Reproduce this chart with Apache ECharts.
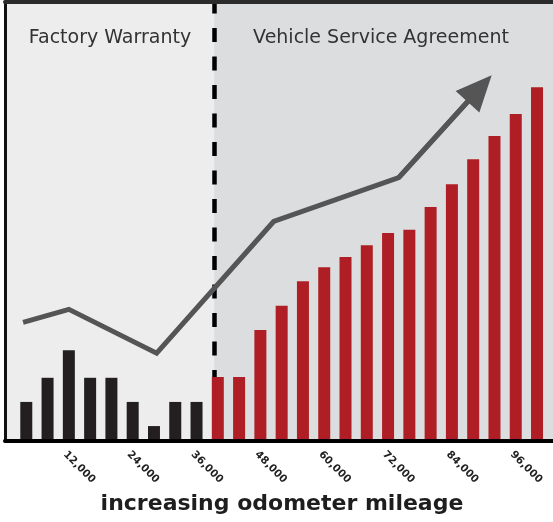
<!DOCTYPE html>
<html>
<head>
<meta charset="utf-8">
<script src="https://cdn.jsdelivr.net/npm/echarts@6/dist/echarts.min.js"></script>
<style>
  html, body { margin: 0; padding: 0; background: #fff; }
  #chart { width: 553px; height: 522px; }
</style>
</head>
<body>
<div id="chart"></div>
<script>
// odometer reading of each bar (miles)
const miles = [4000, 8000, 12000, 16000, 20000, 24000, 28000, 32000, 36000,
  40000, 44000, 48000, 52000, 56000, 60000, 64000, 68000, 72000, 76000,
  80000, 84000, 88000, 92000, 96000, 100000]
// repair cost per bar (relative units)
const repairCost = [8.9, 14.4, 20.7, 14.4, 14.4, 8.9, 3.4, 8.9, 8.9,
  14.6, 14.6, 25.3, 30.8, 36.4, 39.6, 41.9, 44.6, 47.4, 48.1,
  53.3, 58.5, 64.2, 69.5, 74.5, 80.6]
// trend line with arrow (last point = arrow head)
const trendMiles = [3400, 12000, 28500, 50500, 74000, 89200]
const trendCost = [27, 30, 20, 50, 60, 80.3]

const warrantyLimit = 36000
const coverageSplit = 39300
const axisMin = 0
const axisMax = 103000
const tickStep = 12000

const BLACK = '#231f20'
const RED = '#ae1e24'
const GREY_LINE = '#555555'

const chart = echarts.init(document.getElementById('chart'))

const barData = miles.map((m, i) => [m, repairCost[i]])
const trendData = trendMiles.map((m, i) => [m, trendCost[i]])
const n = trendData.length

chart.setOption({
  animation: false,
  grid: { left: 5, right: 0, top: 2, bottom: 81 },
  graphic: [
    {
      type: 'text', x: 110, y: 38, z: 20,
      style: { text: 'Factory Warranty', fill: '#333', fontSize: 19, fontFamily: 'DejaVu Sans', align: 'center', verticalAlign: 'middle' }
    },
    {
      type: 'text', x: 381, y: 38, z: 20,
      style: { text: 'Vehicle Service Agreement', fill: '#333', fontSize: 19, fontFamily: 'DejaVu Sans', align: 'center', verticalAlign: 'middle' }
    }
  ],
  xAxis: [
    {
      type: 'value',
      min: axisMin,
      max: axisMax,
      interval: tickStep,
      z: 10,
      name: 'increasing odometer mileage',
      nameLocation: 'middle',
      nameGap: 52,
      nameTextStyle: { color: '#1e1e1e', fontSize: 22, fontWeight: 'bold', fontFamily: 'DejaVu Sans', padding: [0, 0, 0, 6] },
      axisLine: { show: true, onZero: false, lineStyle: { color: '#000', width: 4 } },
      axisTick: { show: false },
      splitLine: { show: false },
      axisLabel: {
        rotate: -45,
        margin: 8,
        verticalAlign: 'top',
        showMinLabel: false,
        showMaxLabel: false,
        color: '#222',
        fontSize: 10.5,
        fontWeight: 'bold',
        fontFamily: 'DejaVu Sans',
        formatter: v => v.toLocaleString('en-US')
      }
    },
    {
      type: 'value',
      position: 'top',
      min: axisMin,
      max: axisMax,
      z: 10,
      axisLine: { show: true, onZero: false, lineStyle: { color: '#2b2b2b', width: 4 } },
      axisTick: { show: false },
      axisLabel: { show: false },
      splitLine: { show: false }
    }
  ],
  yAxis: {
    type: 'value',
    min: 0,
    max: 100,
    z: 10,
    axisLine: { show: true, lineStyle: { color: '#111', width: 3 } },
    axisTick: { show: false },
    axisLabel: { show: false },
    splitLine: { show: false }
  },
  series: [
    {
      // background panels and the dashed coverage divider, behind the bars
      type: 'line',
      xAxisIndex: 0,
      z: 0,
      silent: true,
      data: [],
      markArea: {
        silent: true,
        z: 0,
        data: [
          [{ xAxis: axisMin, itemStyle: { color: '#ecedec' } }, { xAxis: coverageSplit }],
          [{ xAxis: coverageSplit, itemStyle: { color: '#dcdddf' } }, { xAxis: axisMax }]
        ]
      },
      markLine: {
        silent: true,
        z: 1,
        symbol: 'none',
        label: { show: false },
        lineStyle: { color: '#000', width: 4.5, type: [14, 14.5] },
        data: [{ xAxis: coverageSplit }]
      }
    },
    {
      type: 'bar',
      xAxisIndex: 0,
      z: 2,
      barWidth: 12,
      silent: true,
      data: barData,
      itemStyle: {
        color: p => (p.value[0] <= warrantyLimit ? BLACK : RED)
      }
    },
    {
      type: 'line',
      xAxisIndex: 0,
      z: 4,
      silent: true,
      symbol: 'none',
      data: trendData,
      lineStyle: { color: GREY_LINE, width: 5, join: 'miter' },
      markLine: {
        silent: true,
        z: 4,
        symbol: ['none', 'triangle'],
        symbolSize: [32, 36],
        label: { show: false },
        lineStyle: { color: GREY_LINE, width: 5, type: 'solid' },
        itemStyle: { color: GREY_LINE },
        data: [[{ coord: trendData[n - 2] }, { coord: trendData[n - 1] }]]
      }
    }
  ]
})
</script>
</body>
</html>
